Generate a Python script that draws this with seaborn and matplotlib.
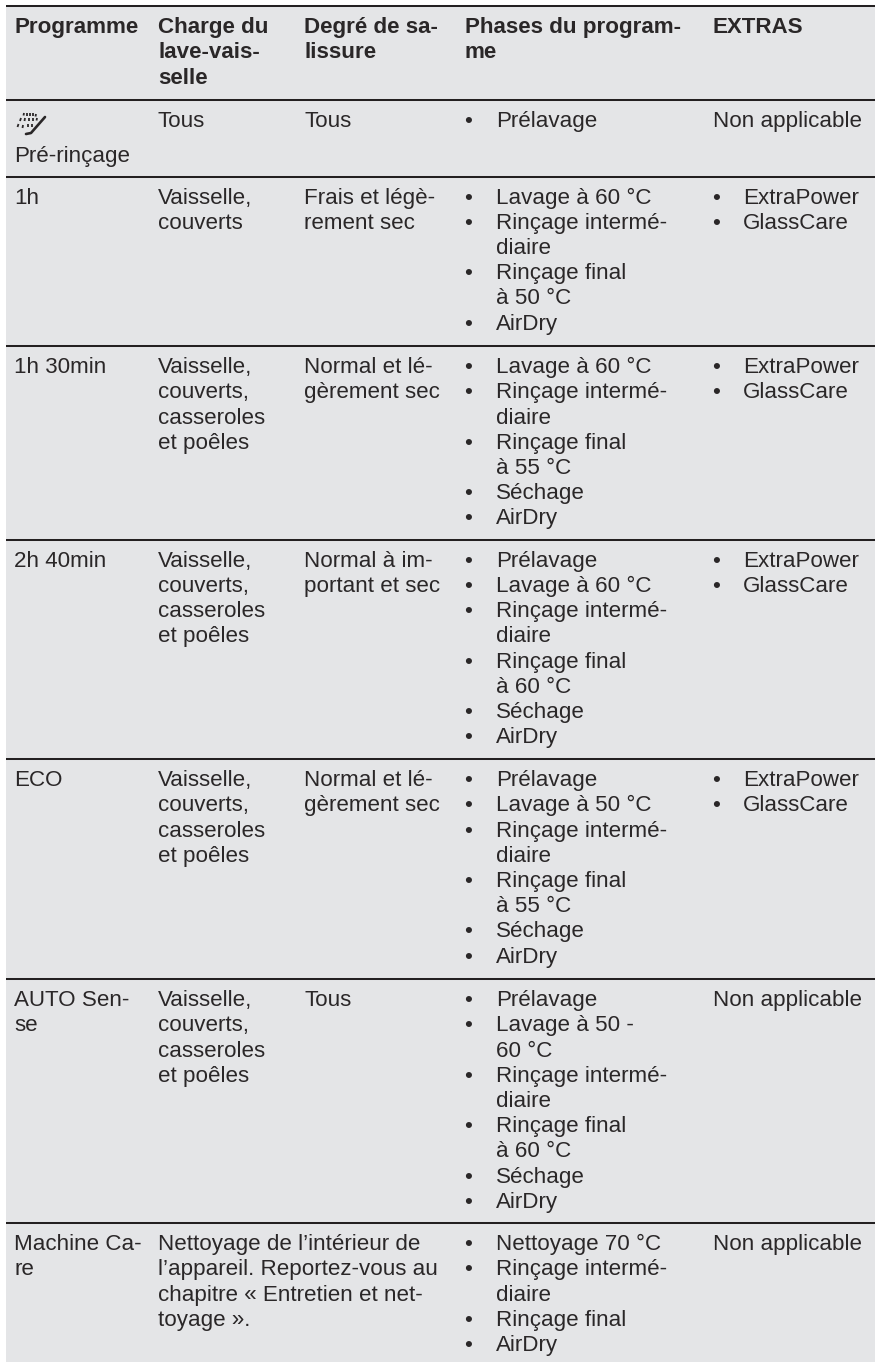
import matplotlib
matplotlib.use("Agg")
import matplotlib.pyplot as plt
from matplotlib.colors import ListedColormap
import numpy as np
import seaborn as sns

headers = ["Programme", "Charge du\nlave-vais-\nselle", "Degré de sa-\nlissure",
           "Phases du program-\nme", "EXTRAS"]

programmes = ["Pré-rinçage", "1h", "1h 30min", "2h 40min", "ECO", "AUTO Sen-\nse", "Machine Ca-\nre"]

dishes = "Vaisselle,\ncouverts,\ncasseroles\net poêles"
charges = ["Tous", "Vaisselle,\ncouverts", dishes, dishes, dishes, dishes,
           "Nettoyage de l’intérieur de\nl’appareil. Reportez-vous au\nchapitre « Entretien et net-\ntoyage »."]

degres = ["Tous", "Frais et légè-\nrement sec", "Normal et lé-\ngèrement sec",
          "Normal à im-\nportant et sec", "Normal et lé-\ngèrement sec", "Tous", ""]

inter = "Rinçage intermé-\ndiaire"
phases = [
    ["Prélavage"],
    ["Lavage à 60 °C", inter, "Rinçage final\nà 50 °C", "AirDry"],
    ["Lavage à 60 °C", inter, "Rinçage final\nà 55 °C", "Séchage", "AirDry"],
    ["Prélavage", "Lavage à 60 °C", inter, "Rinçage final\nà 60 °C", "Séchage", "AirDry"],
    ["Prélavage", "Lavage à 50 °C", inter, "Rinçage final\nà 55 °C", "Séchage", "AirDry"],
    ["Prélavage", "Lavage à 50 -\n60 °C", inter, "Rinçage final\nà 60 °C", "Séchage", "AirDry"],
    ["Nettoyage 70 °C", inter, "Rinçage final", "AirDry"],
]

opts = ["ExtraPower", "GlassCare"]
extras = ["Non applicable", opts, opts, opts, opts, "Non applicable", "Non applicable"]

# layout, in pixels of the page
W, H = 880, 1362
LEFT, RIGHT, TOP = 6, 875, 6
rules = [6, 99.5, 176.5, 346, 539.5, 759, 979, 1223]
col_x = [14, 158, 304.5, 465, 713]
PHASE_BULLET_X = 464
PHASE_TEXT_X = 496
EXTRA_BULLET_X = 712
EXTRA_TEXT_X = 743
LEADING = 25.2
FIRST_BASE = 27.2
INK = "#2a2728"
PAPER = "#e4e5e7"
FS = 16.1

sns.set_theme(style="white")
plt.rcParams["font.family"] = ["Liberation Sans", "DejaVu Sans"]

fig = plt.figure(figsize=(W / 100, H / 100), dpi=100, facecolor="white")

# grey page block
bg = fig.add_axes([LEFT / W, 0, (RIGHT - LEFT) / W, 1 - TOP / H])
sns.heatmap(np.zeros((1, 1)), cmap=ListedColormap([PAPER]), cbar=False,
            xticklabels=False, yticklabels=False, ax=bg)

ax = fig.add_axes([0, 0, 1, 1], facecolor="none")
ax.set_xlim(0, W)
ax.set_ylim(H, 0)
ax.axis("off")

ax.hlines(rules, LEFT, RIGHT, color="#232021", lw=1.45)


def put(x, base, txt, **kw):
    # one line per baseline, the way the page is set
    lines = txt.split("\n")
    for i, line in enumerate(lines):
        ax.text(x, base + i * LEADING, line, fontsize=FS, color=INK, va="baseline", ha="left", **kw)
    return len(lines)


for x, h in zip(col_x, headers):
    put(x, rules[0] + FIRST_BASE, h, fontweight="bold")

for r in range(len(programmes)):
    base = rules[r + 1] + FIRST_BASE
    prog_base = base + 35 if r == 0 else base
    put(col_x[0], prog_base, programmes[r])
    put(col_x[1], base, charges[r])
    put(col_x[2], base, degres[r])

    y = base
    for item in phases[r]:
        ax.text(PHASE_BULLET_X, y, "•", fontsize=FS, color=INK, va="baseline")
        y += put(PHASE_TEXT_X, y, item) * LEADING

    if isinstance(extras[r], str):
        put(col_x[4], base, extras[r])
    else:
        y = base
        for item in extras[r]:
            ax.text(EXTRA_BULLET_X, y, "•", fontsize=FS, color=INK, va="baseline")
            y += put(EXTRA_TEXT_X, y, item) * LEADING

# pre-rinse symbol: spray dashes over a slanted rack
ix, iy = 17, 112
for px0, py0, px1, py1 in [(7, 1, 6.5, 3.5), (10, 1, 10, 3.5), (13, 1, 13, 3.5), (16, 1, 16, 3.5), (19, 2, 18.5, 4.5),
                           (4, 6, 3, 9), (8, 6, 7.5, 9), (12, 6, 12, 9), (16, 6, 16, 9), (20, 6, 19.5, 8.5),
                           (1.5, 12, 0.5, 15), (6, 13, 5.5, 16), (11, 12, 11, 15), (15, 12, 15, 14.5)]:
    ax.plot([ix + px0, ix + px1], [iy + py0, iy + py1], color=INK, lw=1.3, solid_capstyle="butt")
ax.plot([ix + 9, ix + 14, ix + 28], [iy + 22, iy + 21, iy + 5], color=INK, lw=1.9, solid_capstyle="round")

fig.savefig("out.png", dpi=100, facecolor="white")
